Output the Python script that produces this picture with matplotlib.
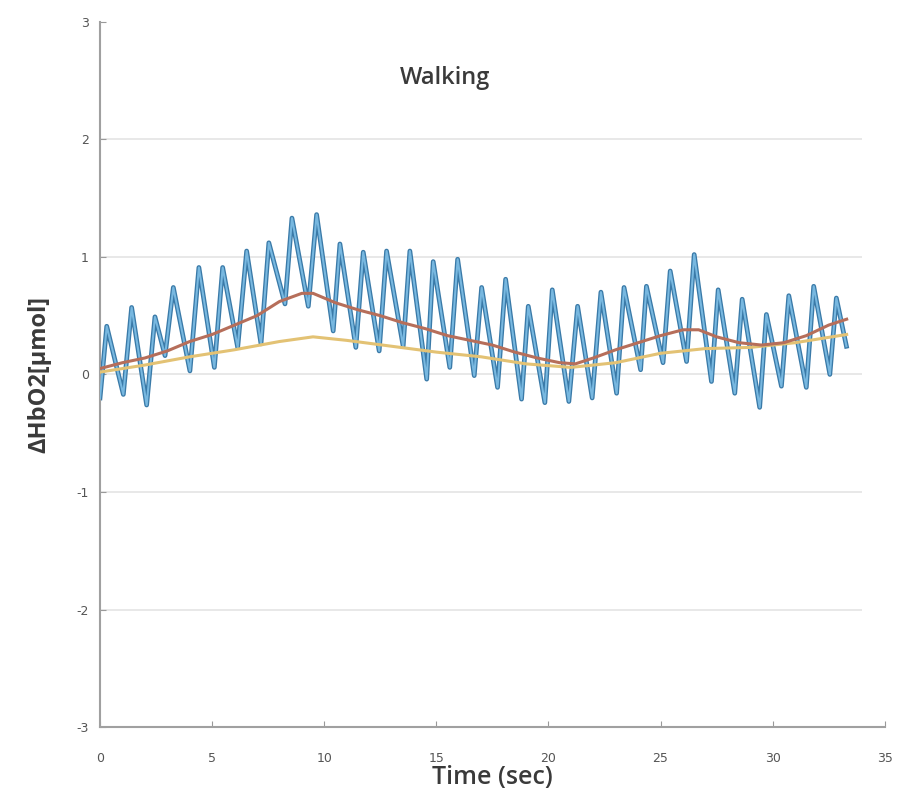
import numpy as np
import matplotlib
matplotlib.use('Agg')
import matplotlib.pyplot as plt

plt.rcParams['axes.unicode_minus']=False

raw_t=[0.0,0.30,1.04,1.41,2.08,2.45,2.90,3.27,4.01,4.41,5.10,5.47,6.14,6.54,7.18,7.53,8.25,8.56,9.29,9.66,
       10.40,10.70,11.41,11.74,12.45,12.78,13.52,13.82,14.57,14.86,15.60,15.95,16.69,17.02,17.73,18.09,18.80,
       19.10,19.84,20.17,20.91,21.30,21.95,22.34,23.04,23.37,24.11,24.37,25.11,25.43,26.16,26.50,27.27,27.57,
       28.31,28.64,29.42,29.72,30.39,30.72,31.50,31.83,32.55,32.84,33.29]
raw_y=[-0.20,0.41,-0.17,0.57,-0.26,0.49,0.16,0.74,0.03,0.91,0.06,0.91,0.23,1.05,0.26,1.12,0.60,1.33,0.58,1.36,
       0.37,1.11,0.23,1.04,0.20,1.05,0.24,1.05,-0.04,0.96,0.06,0.98,-0.01,0.74,-0.11,0.81,-0.21,
       0.58,-0.24,0.72,-0.23,0.58,-0.20,0.70,-0.16,0.74,0.04,0.75,0.10,0.88,0.11,1.02,-0.06,0.72,
       -0.16,0.64,-0.28,0.51,-0.10,0.67,-0.11,0.75,0.00,0.65,0.24]

# red smoothed
red_t=[0.0,1.0,2.0,3.0,4.0,5.0,6.0,7.0,8.0,9.0,9.5,10.5,11.5,12.5,13.5,14.5,15.5,16.5,17.5,18.5,19.5,20.5,21.2,
       22.0,23.0,24.0,25.0,26.0,26.7,27.5,28.5,29.5,30.5,31.5,32.5,33.3]
red_y=[0.05,0.10,0.14,0.20,0.28,0.34,0.42,0.50,0.62,0.69,0.69,0.61,0.55,0.50,0.44,0.39,0.33,0.29,0.25,0.19,0.14,0.10,0.09,
       0.14,0.21,0.27,0.33,0.38,0.38,0.32,0.27,0.25,0.27,0.33,0.42,0.47]

# yellow smoothed
yel_t=[0,2,4,6,8,9.5,11,13,15,17,19,21,23,25,27,29,31,33.3]
yel_y=[0.02,0.08,0.15,0.21,0.28,0.32,0.29,0.24,0.19,0.15,0.09,0.06,0.10,0.18,0.22,0.23,0.27,0.34]

xticks=[0,5,10,15,20,25,30,35]
yticks=[-3,-2,-1,0,1,2,3]

fnt=['Open Sans','DejaVu Sans']

fig=plt.figure(figsize=(9.01,8.07),dpi=100)
ax=fig.add_axes([0.111,0.099,0.871,0.874])

ax.hlines(yticks[1:-1],0,34,color='#e6e6e6',lw=1.3,zorder=0)

ax.plot(raw_t,raw_y,color='#3a7aa8',lw=3.4,zorder=2)
ax.plot(raw_t,raw_y,color='#78b8e0',lw=1.5,zorder=3)
ax.plot(yel_t,yel_y,color='#e3c274',lw=2.2,zorder=4)
ax.plot(red_t,red_y,color='#b66e5a',lw=2.2,zorder=5)

ax.set_xlim(0,35)
ax.set_ylim(-3,3)
ax.set_xticks(xticks)
ax.set_yticks(yticks)
ax.tick_params(direction='in',length=4,color='#999999',labelsize=9,labelcolor='#555555')
ax.tick_params(axis='x',pad=18)
ax.tick_params(axis='y',pad=8)
for s in ['top','right']:
    ax.spines[s].set_visible(False)
for s in ['left','bottom']:
    ax.spines[s].set_color('#a0a0a0')
    ax.spines[s].set_linewidth(1.5)

ax.set_xlabel('Time (sec)',fontsize=18,family=fnt,fontweight='semibold',color='#3a3a3a',labelpad=0)
ax.set_ylabel('ΔHbO2[μmol]',fontsize=17,family=fnt,fontweight='bold',color='#3a3a3a',labelpad=18)
ax.text(15.4,2.52,'Walking',fontsize=17,family=fnt,fontweight='semibold',color='#3a3a3a',ha='center',va='center')

fig.savefig('out.png',dpi=100)
